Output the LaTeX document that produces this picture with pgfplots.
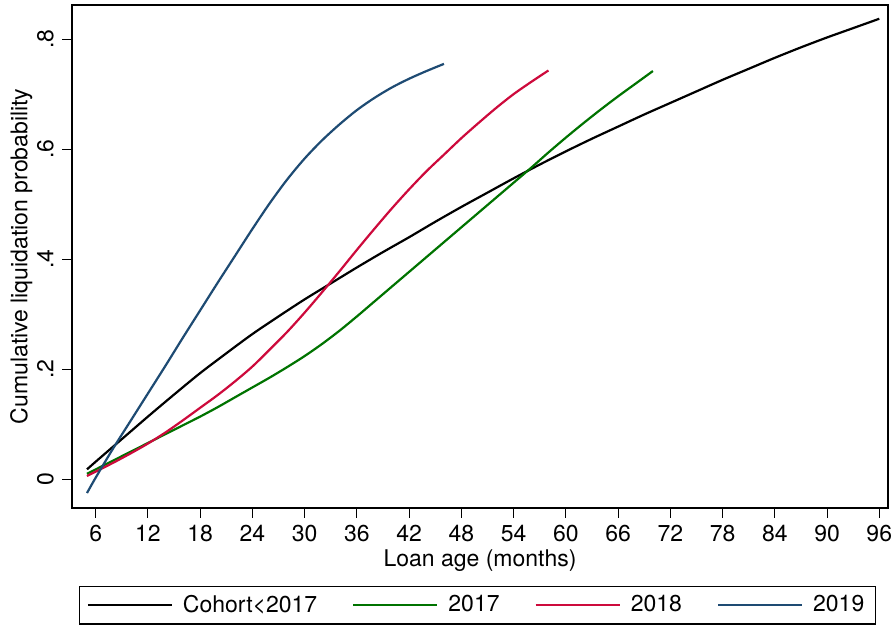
\documentclass[border=0pt]{standalone}
\usepackage{fontspec}
\setmainfont{TeX Gyre Heros}
\usepackage{pgfplots}
\pgfplotsset{compat=1.18}
\definecolor{cgreen}{RGB}{0,115,0}
\definecolor{cred}{RGB}{205,10,60}
\definecolor{cblue}{RGB}{30,75,115}
\begin{document}
\fontsize{11.5}{13.8}\selectfont
\begin{tikzpicture}
\useasboundingbox (0,0) rectangle (448pt,314pt);
\begin{axis}[
  at={(36pt,60.15pt)}, anchor=south west, scale only axis,
  width=408pt, height=251.35pt,
  xmin=3.28, xmax=97, ymin=-0.0516, ymax=0.862,
  xtick={6,12,...,96},
  ytick={0,0.2,0.4,0.6,0.8}, yticklabels={0,.2,.4,.6,.8},
  tick pos=left, tick align=outside, major tick length=5pt,
  every tick/.style={black, line width=0.5pt},
  axis line style={line width=0.8pt},
  /pgf/number format/assume math mode=true,
  xticklabel style={anchor=base, inner sep=0pt, yshift=-11.65pt},
  yticklabel style={xshift=-4.35pt, rotate=90, anchor=base, inner sep=0pt},
  xlabel={Loan age (months)},
  ylabel={Cumulative liquidation probability},
  xlabel style={at={(axis description cs:0.5,-0.1174)}, anchor=base, inner sep=0pt},
  ylabel style={at={(axis description cs:-0.0548,0.5)}, rotate=0, anchor=base, inner sep=0pt},
  legend image code/.code={\draw[#1] (0pt,0pt) -- (42pt,0pt);},
  legend columns=4,
  legend style={at={(0.497,-0.1558)}, anchor=north, draw=black, line width=0.6pt,
    inner xsep=3.6pt, inner ysep=2.2pt,
    /tikz/every odd column/.append style={column sep=3pt},
    /tikz/every even column/.append style={column sep=15.5pt},
    font=\fontsize{11.5}{13.8}\selectfont},
  legend cell align=left,
]
\addplot[black, line width=1.1pt, smooth] coordinates {
(5,0.018)(6,0.032)(9,0.073)(12,0.114)(15,0.154)(18,0.193)(21,0.229)(24,0.264)(27,0.296)(30,0.327)(33,0.356)(36,0.385)(39,0.413)(42,0.440)(45,0.468)(48,0.495)(51,0.521)(54,0.547)(57,0.572)(60,0.596)(63,0.619)(66,0.641)(69,0.663)(72,0.684)(75,0.705)(78,0.726)(81,0.746)(84,0.766)(87,0.785)(90,0.803)(93,0.820)(96,0.837)};
\addlegendentry{Cohort<2017}
\addplot[cgreen, line width=1.1pt, smooth] coordinates {
(5,0.010)(6,0.018)(8,0.034)(10,0.050)(12,0.066)(14,0.082)(16,0.098)(18,0.114)(20,0.131)(22,0.149)(24,0.167)(26,0.185)(28,0.204)(30,0.224)(32,0.246)(34,0.270)(36,0.296)(38,0.323)(40,0.350)(42,0.377)(44,0.404)(46,0.431)(48,0.458)(50,0.485)(52,0.512)(54,0.539)(56,0.566)(58,0.594)(60,0.621)(62,0.647)(64,0.672)(66,0.696)(68,0.719)(70,0.742)};
\addlegendentry{2017}
\addplot[cred, line width=1.1pt, smooth] coordinates {
(5,0.006)(6,0.014)(8,0.030)(10,0.047)(12,0.065)(14,0.085)(16,0.107)(18,0.130)(20,0.153)(22,0.178)(24,0.205)(26,0.236)(28,0.268)(30,0.303)(32,0.340)(34,0.378)(36,0.417)(38,0.455)(40,0.492)(42,0.527)(44,0.560)(46,0.590)(48,0.620)(50,0.648)(52,0.675)(54,0.700)(56,0.722)(58,0.743)};
\addlegendentry{2018}
\addplot[cblue, line width=1.1pt, smooth] coordinates {
(5,-0.025)(6,0.003)(8,0.056)(10,0.106)(12,0.156)(14,0.206)(16,0.257)(18,0.307)(20,0.357)(22,0.406)(24,0.455)(26,0.502)(28,0.545)(30,0.583)(32,0.616)(34,0.645)(36,0.671)(38,0.693)(40,0.712)(42,0.728)(44,0.742)(46,0.755)};
\addlegendentry{2019}
\end{axis}
\end{tikzpicture}
\end{document}
